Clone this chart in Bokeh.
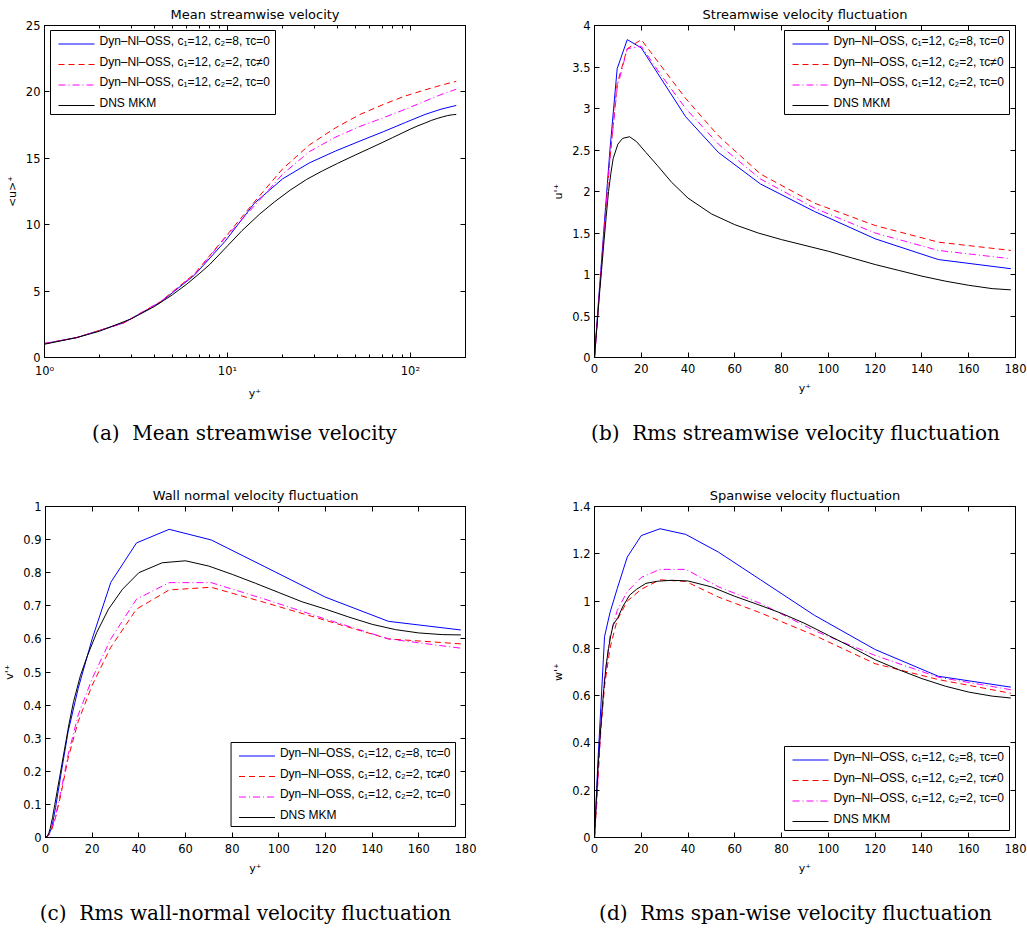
from bokeh.plotting import figure
from bokeh.models import (LinearAxis, LogAxis, FixedTicker, Range1d, LinearScale,
                          ColumnDataSource)
from bokeh.core.properties import value
from bokeh.layouts import column, row
from bokeh.embed import file_html
from bokeh.resources import INLINE

# ---------------- data ----------------
# LES grid (y+)
y_les = [0, 1.0, 1.5, 2.7, 4.3, 6.6, 9.7, 14, 20, 28, 39, 53, 71, 94, 120, 147, 178]
# DNS MKM grid (y+)
y_dns = [0, 0.5, 1, 1.5, 2, 3, 4, 5, 6, 7, 8, 10, 12, 15, 18, 22, 27, 33, 40, 50,
         60, 70, 80, 90, 100, 110, 120, 130, 140, 150, 160, 170, 178]

# (a) mean streamwise velocity <u>+
u_c8 = [0, 1.05, 1.5, 2.6, 4.15, 6.2, 8.75, 11.6, 13.45, 14.65, 15.55, 16.3, 17.0, 17.7, 18.3, 18.7, 18.98]
u_c2t = [0, 1.05, 1.5, 2.6, 4.2, 6.3, 9.05, 11.7, 14.2, 16.0, 17.3, 18.3, 19.05, 19.7, 20.15, 20.5, 20.8]
u_c2 = [0, 1.05, 1.5, 2.6, 4.2, 6.25, 9.0, 11.4, 13.8, 15.5, 16.6, 17.4, 18.05, 18.7, 19.3, 19.8, 20.2]
u_dns = [0, 0.5, 1.0, 1.5, 1.98, 2.93, 3.85, 4.72, 5.53, 6.3, 7.0, 8.4, 9.55, 10.8, 11.7,
         12.6, 13.4, 14.05, 14.62, 15.25, 15.75, 16.18, 16.56, 16.9, 17.2, 17.45, 17.65,
         17.85, 18.0, 18.12, 18.22, 18.28, 18.3]

# (b) rms streamwise fluctuation u'+
urms_c8 = [0, 0.4, 0.6, 1.05, 1.65, 2.5, 3.48, 3.83, 3.73, 3.38, 2.9, 2.47, 2.09, 1.76, 1.43, 1.18, 1.07]
urms_c2t = [0, 0.35, 0.55, 1.0, 1.6, 2.4, 3.3, 3.72, 3.83, 3.53, 3.12, 2.67, 2.21, 1.86, 1.59, 1.39, 1.29]
urms_c2 = [0, 0.35, 0.55, 1.0, 1.6, 2.4, 3.25, 3.72, 3.75, 3.42, 3.0, 2.57, 2.15, 1.8, 1.5, 1.29, 1.19]
urms_dns = [0, 0.18, 0.36, 0.54, 0.72, 1.05, 1.38, 1.7, 2.0, 2.22, 2.4, 2.57, 2.64, 2.66, 2.6,
            2.47, 2.31, 2.11, 1.92, 1.73, 1.6, 1.5, 1.42, 1.35, 1.28, 1.2, 1.12, 1.05, 0.98,
            0.92, 0.87, 0.83, 0.815]

# (c) rms wall-normal fluctuation v'+
vrms_c8 = [0, 0.005, 0.01, 0.03, 0.09, 0.19, 0.32, 0.45, 0.60, 0.771, 0.89, 0.931, 0.899, 0.818, 0.726, 0.653, 0.627]
vrms_c2t = [0, 0.004, 0.008, 0.025, 0.06, 0.13, 0.24, 0.35, 0.46, 0.575, 0.69, 0.748, 0.756, 0.71, 0.656, 0.60, 0.585]
vrms_c2 = [0, 0.004, 0.009, 0.027, 0.065, 0.14, 0.25, 0.37, 0.48, 0.60, 0.72, 0.77, 0.77, 0.72, 0.66, 0.60, 0.572]
vrms_dns = [0, 0.002, 0.007, 0.015, 0.027, 0.06, 0.1, 0.14, 0.18, 0.22, 0.26, 0.34, 0.41, 0.49,
            0.55, 0.62, 0.69, 0.75, 0.8, 0.83, 0.836, 0.82, 0.795, 0.768, 0.74, 0.712, 0.69,
            0.666, 0.644, 0.628, 0.618, 0.613, 0.612]

# (d) rms spanwise fluctuation w'+
wrms_c8 = [0, 0.22, 0.33, 0.55, 0.85, 0.95, 1.052, 1.186, 1.277, 1.306, 1.282, 1.207, 1.09, 0.94, 0.795, 0.682, 0.636]
wrms_c2t = [0, 0.15, 0.25, 0.45, 0.64, 0.8, 0.92, 1.0, 1.05, 1.09, 1.083, 1.017, 0.95, 0.855, 0.735, 0.668, 0.61]
wrms_c2 = [0, 0.16, 0.26, 0.47, 0.67, 0.85, 0.96, 1.04, 1.1, 1.134, 1.134, 1.06, 0.99, 0.875, 0.77, 0.678, 0.625]
wrms_dns = [0, 0.1, 0.2, 0.29, 0.37, 0.51, 0.63, 0.73, 0.8, 0.855, 0.9, 0.93, 0.975, 1.025, 1.05,
            1.075, 1.084, 1.088, 1.085, 1.06, 1.02, 0.985, 0.948, 0.905, 0.855, 0.805, 0.752,
            0.71, 0.672, 0.64, 0.615, 0.598, 0.59]

series_labels = ["Dyn–Nl–OSS, c₁=12, c₂=8, τc=0",
                 "Dyn–Nl–OSS, c₁=12, c₂=2, τc≠0",
                 "Dyn–Nl–OSS, c₁=12, c₂=2, τc=0",
                 "DNS MKM"]
series_colors = ["#0000ff", "#ff0000", "#ff00ff", "#000000"]
series_dashes = ["solid", "6 4", "7 3 1 3", "solid"]

titles = ["Mean streamwise velocity", "Streamwise velocity fluctuation",
          "Wall normal velocity fluctuation", "Spanwise velocity fluctuation"]
captions = ["(a)\u00a0\u00a0Mean streamwise velocity",
            "(b)\u00a0\u00a0Rms streamwise velocity fluctuation",
            "(c)\u00a0\u00a0Rms wall-normal velocity fluctuation",
            "(d)\u00a0\u00a0Rms span-wise velocity fluctuation"]
ylabels = ["<u>⁺", "u'⁺", "v'⁺", "w'⁺"]
xlabel = "y⁺"

# ticks
xlog_ticks = [1, 10, 100]
xlog_labels = ["10⁰", "10¹", "10²"]
xlog_minor = [2, 3, 4, 5, 6, 7, 8, 9, 20, 30, 40, 50, 60, 70, 80, 90, 200]
xlin_ticks = [0, 20, 40, 60, 80, 100, 120, 140, 160, 180]
xlin_labels = ["0", "20", "40", "60", "80", "100", "120", "140", "160", "180"]
ya_ticks = [0, 5, 10, 15, 20, 25]
ya_labels = ["0", "5", "10", "15", "20", "25"]
yb_ticks = [0, 0.5, 1, 1.5, 2, 2.5, 3, 3.5, 4]
yb_labels = ["0", "0.5", "1", "1.5", "2", "2.5", "3", "3.5", "4"]
yc_ticks = [0, 0.1, 0.2, 0.3, 0.4, 0.5, 0.6, 0.7, 0.8, 0.9, 1]
yc_labels = ["0", "0.1", "0.2", "0.3", "0.4", "0.5", "0.6", "0.7", "0.8", "0.9", "1"]
yd_ticks = [0, 0.2, 0.4, 0.6, 0.8, 1, 1.2, 1.4]
yd_labels = ["0", "0.2", "0.4", "0.6", "0.8", "1", "1.2", "1.4"]

SANS = "DejaVu Sans"
LEG = "Liberation Sans"
SERIF = "DejaVu Serif"

FRAME_W = 421


def style_axis(ax, ticks, labels, minor=None, show_labels=True):
    ax.ticker = FixedTicker(ticks=ticks, minor_ticks=minor or [])
    ax.major_tick_in = 5
    ax.major_tick_out = 0
    ax.minor_tick_in = 3 if minor else 0
    ax.minor_tick_out = 0
    ax.axis_line_color = "black"
    ax.major_tick_line_color = "black"
    ax.minor_tick_line_color = "black"
    ax.major_label_text_font = SANS
    if show_labels:
        ax.major_label_overrides = {t: l for t, l in zip(ticks, labels)}
        ax.major_label_text_color = "black"
        ax.major_label_text_font_size = "11.5px"
        ax.major_label_standoff = 6
    else:
        ax.major_label_text_color = None
        ax.major_label_text_font_size = "1px"
        ax.major_label_standoff = 0
    ax.axis_label_text_font = SANS
    ax.axis_label_text_font_size = "11px"
    ax.axis_label_text_font_style = "normal"
    ax.axis_label_text_color = "black"
    ax.axis_label_standoff = 6


def dash_pieces(x_start, x_end, dash):
    """Split a legend sample line into its visible dash pieces."""
    if dash == "solid":
        return [(x_start, x_end)]
    pat = [float(v) for v in dash.split()]
    pieces, x, k = [], x_start, 0
    while x < x_end:
        L = pat[k % len(pat)]
        if k % 2 == 0:
            pieces.append((x, min(x + L, x_end)))
        x += L
        k += 1
    return pieces


def add_legend(p, x0, ytop):
    # legend box drawn in pixel units of the plot frame
    kw = dict(x_range_name="px", y_range_name="py")
    bw, bh = 225, 84
    p.quad(left=[x0], right=[x0 + bw], top=[ytop], bottom=[ytop - bh],
           fill_color="white", line_color="black", line_width=1, **kw)
    ys = [ytop - 13.5 - i * 20.5 for i in range(4)]
    seg = dict(x0=[], x1=[], y0=[], y1=[], color=[])
    for i in range(4):
        for a, b in dash_pieces(x0 + 8, x0 + 44, series_dashes[i]):
            seg["x0"].append(a)
            seg["x1"].append(b)
            seg["y0"].append(ys[i])
            seg["y1"].append(ys[i])
            seg["color"].append(series_colors[i])
    p.segment("x0", "y0", "x1", "y1", source=ColumnDataSource(seg), line_color="color",
              line_width=1, line_cap="butt", **kw)
    p.text([x0 + 49] * 4, [y + 3 for y in ys], text=series_labels, text_font=value(LEG),
           text_font_size="12px", text_baseline="middle", text_align="left",
           text_color="black", **kw)


def make_panel(k, width, height, borders, xlog, yr, yticks, ylabels_, ylabel,
               les_vals, dns_vals, leg_pos):
    left, right, top, bottom = borders
    frame_h = height - top - bottom
    xr = (1, 200) if xlog else (0, 180)
    p = figure(width=width, height=height, x_axis_type="log" if xlog else "linear",
               x_range=Range1d(*xr), y_range=Range1d(*yr),
               extra_x_ranges={"px": Range1d(0, FRAME_W)},
               extra_y_ranges={"py": Range1d(0, frame_h)},
               extra_x_scales={"px": LinearScale()},
               extra_y_scales={"py": LinearScale()},
               output_backend="svg", toolbar_location=None,
               min_border_left=left, min_border_right=right,
               min_border_top=top, min_border_bottom=bottom)
    p.xgrid.visible = False
    p.ygrid.visible = False
    p.outline_line_color = "black"
    p.outline_line_alpha = 1
    p.outline_line_width = 1
    p.background_fill_color = "white"
    p.border_fill_color = "white"

    p.title.text = titles[k]
    p.title.align = "center"
    p.title.text_font = SANS
    p.title.text_font_size = "13px"
    p.title.text_font_style = "normal"
    p.title.text_color = "black"
    p.title.standoff = 7

    bx = p.xaxis[0]
    ly = p.yaxis[0]
    if xlog:
        style_axis(bx, xlog_ticks, xlog_labels, xlog_minor)
    else:
        style_axis(bx, xlin_ticks, xlin_labels)
    style_axis(ly, yticks, ylabels_)
    ly.major_label_standoff = 4
    bx.axis_label = xlabel
    ly.axis_label = ylabel
    ly.axis_label_standoff = 4

    tx = LogAxis() if xlog else LinearAxis()
    if xlog:
        style_axis(tx, xlog_ticks, xlog_labels, xlog_minor, show_labels=False)
    else:
        style_axis(tx, xlin_ticks, xlin_labels, show_labels=False)
    p.add_layout(tx, "above")
    ry = LinearAxis()
    style_axis(ry, yticks, ylabels_, show_labels=False)
    p.add_layout(ry, "right")

    for i in range(4):
        if i < 3:
            xs, ys = y_les, les_vals[i]
        else:
            xs, ys = y_dns, dns_vals
        if xlog:
            pairs = [(a, b) for a, b in zip(xs, ys) if a > 0]
            xs = [a for a, _ in pairs]
            ys = [b for _, b in pairs]
        p.line(xs, ys, line_color=series_colors[i], line_width=1,
               line_dash=series_dashes[i])

    lx0, ltop = leg_pos
    add_legend(p, lx0, frame_h - ltop if ltop >= 0 else -ltop)
    return p


def make_caption(k, width, height, xc, yc_from_top):
    c = figure(width=width, height=height, x_range=Range1d(0, width),
               y_range=Range1d(0, height), output_backend="svg", toolbar_location=None,
               x_axis_location=None, y_axis_location=None, min_border=0)
    c.grid.visible = False
    c.outline_line_color = None
    c.background_fill_color = "white"
    c.border_fill_color = "white"
    c.text([xc], [height - yc_from_top], text=[captions[k]], text_font=value(SERIF),
           text_font_size="20px", text_align="center", text_baseline="middle",
           text_color="black")
    return c


# top row: frame top 25, frame height 332, bottom border 45
p1 = make_panel(0, 513, 402, (44, 48, 25, 45), True, (0, 25), ya_ticks, ya_labels,
                ylabels[0], [u_c8, u_c2t, u_c2], u_dns, (6, 5))
p2 = make_panel(1, 514, 402, (81, 12, 25, 45), False, (0, 4), yb_ticks, yb_labels,
                ylabels[1], [urms_c8, urms_c2t, urms_c2], urms_dns, (190, 5))
c1 = make_caption(0, 513, 64, 244, 30)
c2 = make_caption(1, 514, 64, 282, 30)
# bottom row: frame top 40, frame height 331, bottom border 45
p3 = make_panel(2, 513, 416, (44, 48, 40, 45), False, (0, 1), yc_ticks, yc_labels,
                ylabels[2], [vrms_c8, vrms_c2t, vrms_c2], vrms_dns, (186, -95))
p4 = make_panel(3, 514, 416, (81, 12, 40, 45), False, (0, 1.4), yd_ticks, yd_labels,
                ylabels[3], [wrms_c8, wrms_c2t, wrms_c2], wrms_dns, (190, -91))
c3 = make_caption(2, 513, 51, 245, 30)
c4 = make_caption(3, 514, 51, 282, 30)

layout = column(row(p1, p2), row(c1, c2), row(p3, p4), row(c3, c4))

with open("out.html", "w") as f:
    f.write(file_html(layout, INLINE))
